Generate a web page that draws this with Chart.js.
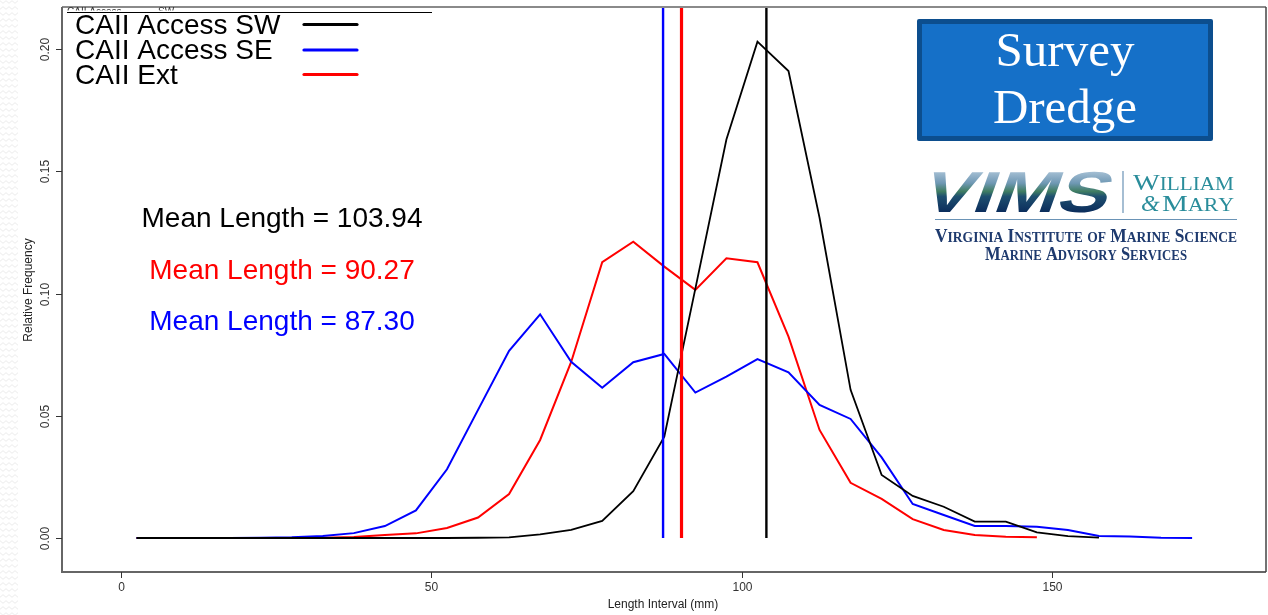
<!DOCTYPE html>
<html><head><meta charset="utf-8">
<script src="https://cdn.jsdelivr.net/npm/chart.js@4"></script>
<style>html,body{margin:0;padding:0;background:#fff;overflow:hidden}canvas{display:block}</style>
</head><body>
<canvas id="c" width="1268" height="615" style="width:1268px;height:615px"></canvas>
<script>
// ---- data ----
const lengthMid = [2.5,7.5,12.5,17.5,22.5,27.5,32.5,37.5,42.5,47.5,52.5,57.5,62.5,67.5,72.5,77.5,82.5,87.5,92.5,97.5,102.5,107.5,112.5,117.5,122.5,127.5,132.5,137.5,142.5,147.5,152.5,157.5,162.5,167.5,172.5];
const swFreq  = [0,0,0,0,0,0,0,0,0,0,0,0.0001,0.0003,0.0015,0.0033,0.007,0.0192,0.0414,0.102,0.163,0.203,0.191,0.131,0.0606,0.0258,0.0172,0.0128,0.0067,0.0067,0.0023,0.0008,0.0002];
const seFreq  = [0,0,0,0,0.0001,0.0003,0.0008,0.002,0.0049,0.0113,0.0281,0.0524,0.0766,0.0915,0.0721,0.0615,0.0719,0.0753,0.0595,0.066,0.0732,0.0678,0.0544,0.0487,0.033,0.0139,0.0094,0.0049,0.0049,0.0046,0.0033,0.0008,0.0006,0.0001,0];
const extFreq = [0,0,0,0,0,0,0.0001,0.0004,0.0012,0.0019,0.0041,0.0084,0.018,0.0401,0.072,0.1128,0.1212,0.111,0.1015,0.1144,0.1128,0.0824,0.0442,0.0226,0.016,0.0077,0.0033,0.0012,0.0005,0.0003];
const seriesNames = ['CAII Access SW','CAII Access SE','CAII Ext'];
const seriesColors = ['#000000','#0000ff','#ff0000'];
const meanLengths = [103.94, 87.30, 90.27];
const meanLabels = ['Mean Length = 103.94','Mean Length = 90.27','Mean Length = 87.30'];
const meanLabelColors = ['#000000','#ff0000','#0000ff'];
const xTicks = [0,50,100,150];
const xTickLabels = ['0','50','100','150'];
const yTicks = [0,0.05,0.10,0.15,0.20];
const yTickLabels = ['0.00','0.05','0.10','0.15','0.20'];
const xTitle = 'Length Interval (mm)';
const yTitle = 'Relative Frequency';

const X_MIN = -9.5, X_MAX = 184.4, Y_MIN = -0.0139, Y_MAX = 0.2172;
const SANS = '"Liberation Sans", Arial, sans-serif';
const SERIF = '"Liberation Serif", "Times New Roman", serif';

function pts(arr){ return arr.map((v,i)=>({x:lengthMid[i], y:v})); }

const freqs = [swFreq, seFreq, extFreq];
const datasets = [];
meanLengths.forEach((m,i)=>{
  datasets.push({label:'mean '+seriesNames[i], data:[{x:m,y:0},{x:m,y:Y_MAX}],
    borderColor:seriesColors[i], borderWidth: i===2?3.2:2.4, pointRadius:0, fill:false, order:0, tension:0});
});
freqs.forEach((f,i)=>{
  datasets.push({label:seriesNames[i], data:pts(f), borderColor:seriesColors[i],
    borderWidth: i===0?1.8:2, pointRadius:0, fill:false, order:1, tension:0});
});

function smallCaps(ctx, text, x, y, big, small, weight, targetW, align){
  const parts = [];
  let w = 0;
  ctx.save();
  ctx.textAlign = 'left';
  ctx.textBaseline = 'alphabetic';
  for (const ch of text){
    const isSmall = ch !== ch.toUpperCase();
    const f = weight + ' ' + (isSmall?small:big) + 'px ' + SERIF;
    ctx.font = f;
    const c = ch.toUpperCase();
    const cw = ctx.measureText(c).width;
    parts.push({c, f, cw});
    w += cw;
  }
  const sx = targetW ? targetW / w : 1;
  let startX = x;
  if (align === 'right') startX = x - w*sx;
  if (align === 'center') startX = x - w*sx/2;
  ctx.translate(startX, y);
  ctx.scale(sx, 1);
  let cx = 0;
  for (const p of parts){ ctx.font = p.f; ctx.fillText(p.c, cx, 0); cx += p.cw; }
  ctx.restore();
}

const decor = {
  id:'decor',
  beforeDraw(chart){
    const ctx = chart.ctx;
    ctx.save();
    ctx.fillStyle = '#fff';
    ctx.fillRect(0,0,chart.width,chart.height);
    // faint zigzag strip on the left
    ctx.strokeStyle = '#ececec';
    ctx.lineWidth = 1;
    for (let r=0, yy=2; yy<615; r++, yy+=6){
      ctx.beginPath();
      const off = (r%2)*3;
      for (let xx=-3+off; xx<=20; xx+=3){
        const k = Math.round((xx-off)/3);
        const py = yy + ((k%2)?1.3:-1.3);
        if (xx===-3+off) ctx.moveTo(xx,py); else ctx.lineTo(xx,py);
      }
      ctx.stroke();
    }
    ctx.restore();
  },
  afterDraw(chart){
    const ctx = chart.ctx, xs = chart.scales.x, ys = chart.scales.y, ca = chart.chartArea;
    ctx.save();
    // frame
    ctx.lineWidth = 2;
    ctx.strokeStyle = '#8a8a8a';
    ctx.beginPath(); ctx.moveTo(ca.left, ca.top); ctx.lineTo(ca.right, ca.top); ctx.stroke();
    ctx.strokeStyle = '#666';
    ctx.beginPath(); ctx.moveTo(ca.left, ca.top); ctx.lineTo(ca.left, ca.bottom); ctx.lineTo(ca.right, ca.bottom); ctx.stroke();
    ctx.strokeStyle = '#444'; ctx.lineWidth = 1.5;
    ctx.beginPath(); ctx.moveTo(ca.right, ca.top); ctx.lineTo(ca.right, ca.bottom); ctx.stroke();

    // x ticks
    ctx.strokeStyle = '#333'; ctx.lineWidth = 1; ctx.fillStyle = '#333';
    ctx.font = '12px ' + SANS; ctx.textAlign = 'center'; ctx.textBaseline = 'middle';
    xTicks.forEach((t,i)=>{
      const px = Math.round(xs.getPixelForValue(t)) + 0.5;
      ctx.beginPath(); ctx.moveTo(px, ca.bottom); ctx.lineTo(px, ca.bottom+6); ctx.stroke();
      ctx.fillText(xTickLabels[i], px, 588);
    });
    // y ticks (rotated labels)
    yTicks.forEach((t,i)=>{
      const py = Math.round(ys.getPixelForValue(t)) + 0.5;
      ctx.beginPath(); ctx.moveTo(ca.left-6, py); ctx.lineTo(ca.left, py); ctx.stroke();
      ctx.save(); ctx.translate(46, py); ctx.rotate(-Math.PI/2);
      ctx.fillText(yTickLabels[i], 0, 0); ctx.restore();
    });
    // axis titles
    ctx.fillStyle = '#222';
    ctx.font = '12px ' + SANS;
    ctx.fillText(xTitle, 663, 605);
    ctx.save(); ctx.translate(29, 290); ctx.rotate(-Math.PI/2); ctx.fillText(yTitle, 0, 0); ctx.restore();

    // legend (top-left)
    ctx.save();
    ctx.beginPath(); ctx.rect(62, 0, 400, 10.5); ctx.clip();
    ctx.fillStyle = '#333'; ctx.font = '10px ' + SANS; ctx.textAlign = 'left'; ctx.textBaseline = 'alphabetic';
    ctx.fillText('CAII Access', 67, 15); ctx.fillText('SW', 158, 15);
    ctx.restore();
    ctx.strokeStyle = '#000'; ctx.lineWidth = 1;
    ctx.beginPath(); ctx.moveTo(67, 12.5); ctx.lineTo(432, 12.5); ctx.stroke();
    ctx.textAlign = 'left'; ctx.textBaseline = 'alphabetic';
    ctx.font = '28px ' + SANS;
    const legBase = [34, 59, 84], legLineY = [24.5, 50, 74.5];
    seriesNames.forEach((n,i)=>{
      ctx.fillStyle = '#000';
      ctx.fillText(n, 75, legBase[i]);
      ctx.strokeStyle = seriesColors[i]; ctx.lineWidth = 3.2; ctx.lineCap = 'round';
      ctx.beginPath(); ctx.moveTo(304, legLineY[i]); ctx.lineTo(357, legLineY[i]); ctx.stroke();
    });
    ctx.lineCap = 'butt';

    // mean length texts
    ctx.textAlign = 'center'; ctx.font = '28px ' + SANS;
    const mb = [227, 278.5, 329.5];
    meanLabels.forEach((t,i)=>{ ctx.fillStyle = meanLabelColors[i]; ctx.fillText(t, 282, mb[i]); });

    // Survey Dredge box
    ctx.fillStyle = '#0c4e8e';
    ctx.beginPath(); ctx.roundRect(917, 19, 296, 122, 2); ctx.fill();
    ctx.fillStyle = '#1570c8';
    ctx.fillRect(922, 24, 286, 112);
    ctx.fillStyle = '#ffffff'; ctx.font = '49px ' + SERIF; ctx.textAlign = 'center';
    ctx.fillText('Survey', 1065, 66);
    ctx.fillText('Dredge', 1065, 123);

    // VIMS logo
    ctx.save();
    ctx.font = 'bold 56px ' + SANS;
    ctx.textAlign = 'left';
    const vw = ctx.measureText('VIMS').width;
    ctx.translate(919, 212);
    ctx.transform(1, 0, -0.36, 1, 0, 0);
    ctx.scale(186/vw, 1.03);
    const g = ctx.createLinearGradient(0, -40, 0, 0);
    g.addColorStop(0, '#a9c2d6'); g.addColorStop(0.3, '#6f98b4'); g.addColorStop(0.5, '#3f7d62');
    g.addColorStop(0.62, '#1f5070'); g.addColorStop(1, '#0b2d5c');
    ctx.fillStyle = g;
    ctx.fillText('VIMS', 0, 0);
    ctx.restore();
    ctx.strokeStyle = '#6a93b6'; ctx.lineWidth = 1.2;
    ctx.beginPath(); ctx.moveTo(1123, 171); ctx.lineTo(1123, 213); ctx.stroke();
    ctx.beginPath(); ctx.moveTo(935, 219.5); ctx.lineTo(1237, 219.5); ctx.stroke();
    ctx.fillStyle = '#2a8d9b';
    smallCaps(ctx, 'William', 1234, 190, 24, 18, 'normal', 101, 'right');
    ctx.save(); ctx.font = 'italic 24px ' + SERIF; ctx.textAlign = 'left';
    ctx.fillText('&', 1141, 211); ctx.restore();
    smallCaps(ctx, 'Mary', 1234, 211, 24, 18, 'normal', 72, 'right');
    ctx.fillStyle = '#1e3a6e';
    smallCaps(ctx, 'Virginia Institute of Marine Science', 935, 241.5, 18, 14, 'bold', 302, 'left');
    smallCaps(ctx, 'Marine Advisory Services', 985, 259.5, 18, 14, 'bold', 202, 'left');
    ctx.restore();
  }
};

new Chart(document.getElementById('c'), {
  type:'line',
  data:{datasets},
  options:{
    responsive:false, animation:false, devicePixelRatio:1,
    layout:{padding:{left:62, top:7, right:2, bottom:43}},
    plugins:{legend:{display:false}, tooltip:{enabled:false}},
    scales:{
      x:{type:'linear', min:X_MIN, max:X_MAX, display:false},
      y:{type:'linear', min:Y_MIN, max:Y_MAX, display:false}
    }
  },
  plugins:[decor]
});
</script>
</body></html>
